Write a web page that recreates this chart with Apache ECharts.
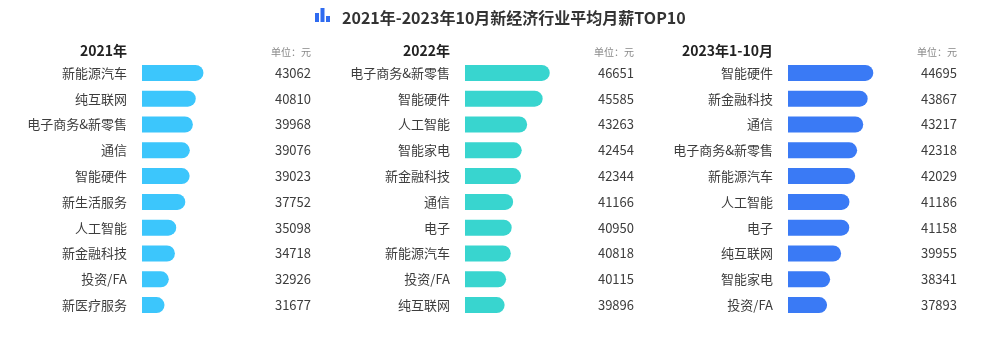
<!DOCTYPE html>
<html><head><meta charset="utf-8">
<script src="https://cdn.jsdelivr.net/npm/echarts@6/dist/echarts.min.js"></script>
<style>html,body{margin:0;padding:0;background:#fff}#c{width:987px;height:355px}</style>
</head><body><div id="c"></div>
<script>
const titleText = '2021年-2023年10月新经济行业平均月薪TOP10';
const panelTitles = ['2021年', '2022年', '2023年1-10月'];
const unitText = '单位：元';
const cats2021 = ['新能源汽车','纯互联网','电子商务&新零售','通信','智能硬件','新生活服务','人工智能','新金融科技','投资/FA','新医疗服务'];
const vals2021 = [43062,40810,39968,39076,39023,37752,35098,34718,32926,31677];
const cats2022 = ['电子商务&新零售','智能硬件','人工智能','智能家电','新金融科技','通信','电子','新能源汽车','投资/FA','纯互联网'];
const vals2022 = [46651,45585,43263,42454,42344,41166,40950,40818,40115,39896];
const cats2023 = ['智能硬件','新金融科技','通信','电子商务&新零售','新能源汽车','人工智能','电子','纯互联网','智能家电','投资/FA'];
const vals2023 = [44695,43867,43217,42318,42029,41186,41158,39955,38341,37893];

const panels = [
  {cats: cats2021, vals: vals2021, color: '#3CC6FC', left: 142, min: 25090, max: 54330, labelX: 127, valX: 311},
  {cats: cats2022, vals: vals2022, color: '#38D5CF', left: 465, min: 33960, max: 48930, labelX: 450, valX: 634},
  {cats: cats2023, vals: vals2023, color: '#3A7AF5', left: 788, min: 32140, max: 46860, labelX: 773, valX: 957}
];
const FONT = '"Noto Sans CJK SC", "Noto Sans", sans-serif';
const gridW = 100, gridTop = 60, gridH = 258;
const grids = [], xAxes = [], yAxes = [], series = [], graphics = [];
panels.forEach((p, i) => {
  grids.push({left: p.left, top: gridTop, width: gridW, height: gridH, containLabel: false});
  xAxes.push({type: 'value', gridIndex: i, min: p.min, max: p.max, show: false});
  yAxes.push({type: 'category', gridIndex: i, data: p.cats, inverse: true,
    axisLine: {show: false}, axisTick: {show: false},
    axisLabel: {margin: p.left - p.labelX, color: '#3d3d3d', fontSize: 13, fontFamily: FONT}});
  yAxes.push({type: 'category', gridIndex: i, data: p.vals.map(String), inverse: true, position: 'right',
    axisLine: {show: false}, axisTick: {show: false},
    axisLabel: {margin: p.valX - (p.left + gridW), align: 'right', color: '#3d3d3d', fontSize: 13, fontFamily: FONT}});
  series.push({type: 'bar', xAxisIndex: i, yAxisIndex: i * 2, data: p.vals, barWidth: 16,
    itemStyle: {color: p.color, borderRadius: [0, 8, 8, 0]}, silent: true});
  graphics.push({type: 'text', x: p.labelX, y: 44, style: {text: panelTitles[i], textAlign: 'right',
    font: 'bold 14px ' + FONT, fill: '#222'}});
  graphics.push({type: 'text', x: p.valX, y: 47, style: {text: unitText, textAlign: 'right',
    font: '10px ' + FONT, fill: '#888'}});
});
// title icon
graphics.push({type: 'rect', shape: {x: 315, y: 13, width: 4, height: 9}, style: {fill: '#2F6BF0'}});
graphics.push({type: 'rect', shape: {x: 320.5, y: 8, width: 4, height: 14}, style: {fill: '#2F6BF0'}});
graphics.push({type: 'rect', shape: {x: 326, y: 16, width: 4, height: 6}, style: {fill: '#2F6BF0'}});

const chart = echarts.init(document.getElementById('c'));
chart.setOption({
  animation: false,
  title: {text: titleText, left: 337, top: 5, textStyle: {fontSize: 16, fontWeight: 'bold', color: '#333', fontFamily: FONT}},
  grid: grids, xAxis: xAxes, yAxis: yAxes, series: series, graphic: graphics
});
</script></body></html>
